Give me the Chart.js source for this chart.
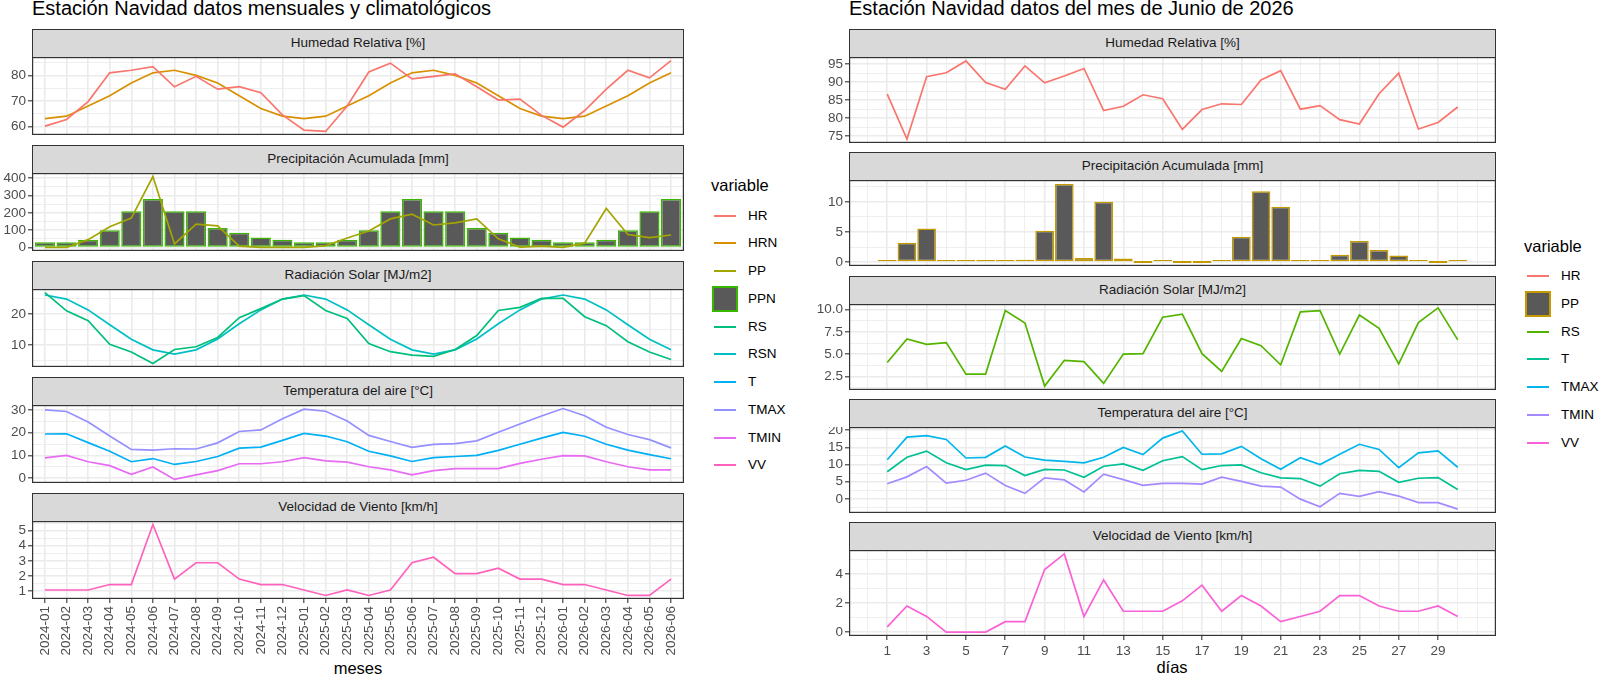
<!DOCTYPE html>
<html>
<head>
<meta charset="utf-8">
<script src="https://cdn.jsdelivr.net/npm/chart.js@4.4.1/dist/chart.umd.min.js"></script>
<style>
  body { margin: 0; width: 1600px; height: 676px; background: #fff; position: relative; overflow: hidden;
         font-family: "Liberation Sans", Arial, sans-serif; }
  .abs { position: absolute; }
  .titulo { font-size: 20px; line-height: 20px; color: #000; white-space: nowrap; }
  .strip { background: #d9d9d9; border: 1px solid #333; box-sizing: border-box; text-align: center;
           font-size: 13.5px; color: #1a1a1a; line-height: 26px; white-space: nowrap; }
  .ejeT { font-size: 16.5px; line-height: 18px; color: #000; transform: translateX(-50%); }
  .leyT { font-size: 16.5px; line-height: 18px; color: #000; }
  .leyL { font-size: 13.5px; line-height: 16px; color: #000; }
</style>
</head>
<body>
<div class="abs titulo" style="left:32px;top:-2px">Estación Navidad datos mensuales y climatológicos</div>
<div class="abs titulo" style="left:849px;top:-2px">Estación Navidad datos del mes de Junio de 2026</div>
<div class="abs ejeT" style="left:358px;top:659px">meses</div>
<div class="abs ejeT" style="left:1172px;top:658px">días</div>

<script>
// ---- datos mensuales (izquierda) ----
const meses = ['2024-01', '2024-02', '2024-03', '2024-04', '2024-05', '2024-06', '2024-07', '2024-08',
  '2024-09', '2024-10', '2024-11', '2024-12', '2025-01', '2025-02', '2025-03', '2025-04', '2025-05',
  '2025-06', '2025-07', '2025-08', '2025-09', '2025-10', '2025-11', '2025-12', '2026-01', '2026-02',
  '2026-03', '2026-04', '2026-05', '2026-06'];
const hrMes = [60.1, 62.7, 69.7, 81.0, 82.0, 83.4, 75.5, 79.6, 74.6, 75.6, 73.2, 64.5, 58.5, 58.0, 68.0,
  81.3, 84.8, 78.6, 79.6, 80.6, 75.5, 70.3, 70.7, 64.3, 59.7, 66.2, 74.6, 82.0, 79.0, 85.8];
const hrnMes = [63, 64, 68, 72, 77, 81, 82, 80, 77, 72, 67, 64, 63, 64, 68, 72, 77, 81, 82, 80, 77, 72,
  67, 64, 63, 64, 68, 72, 77, 81];
const ppMes = [0, 0, 45, 120, 170, 410, 20, 135, 125, 8, 0, 0, 0, 10, 55, 95, 165, 192, 130, 142, 165, 50,
  2, 8, 0, 25, 225, 75, 57, 72];
const ppnMes = [30, 30, 44, 100, 210, 280, 210, 210, 112, 85, 57, 44, 30, 30, 44, 100, 210, 280, 210, 210,
  112, 85, 57, 44, 30, 30, 44, 100, 210, 280];
const rsMes = [26.9, 21.0, 17.8, 10.2, 7.7, 4.0, 8.5, 9.4, 12.4, 18.8, 21.7, 24.8, 25.9, 21.1, 18.5, 10.4,
  7.8, 6.7, 6.3, 8.5, 13.0, 21.1, 22.1, 25.0, 25.0, 19.1, 16.2, 11.0, 7.7, 5.3];
const rsnMes = [26.1, 24.8, 21.3, 16.5, 11.8, 8.4, 7.0, 8.4, 11.9, 16.8, 21.3, 24.8, 26.1, 24.8, 21.3,
  16.5, 11.8, 8.4, 7.0, 8.4, 11.9, 16.8, 21.3, 24.8, 26.1, 24.8, 21.3, 16.5, 11.8, 8.4];
const tMes = [19.4, 19.5, 15.6, 11.8, 7.2, 8.6, 6.0, 7.3, 9.5, 13.2, 13.6, 16.6, 19.7, 18.5, 16.0, 11.8,
  9.8, 7.3, 9.0, 9.5, 10.0, 12.2, 14.9, 17.6, 20.1, 18.4, 14.9, 12.3, 10.3, 8.5];
const tmaxMes = [30.0, 29.3, 24.7, 18.5, 12.6, 12.3, 12.9, 12.8, 15.5, 20.5, 21.2, 26.1, 30.3, 29.4, 25.1,
  18.8, 16.1, 13.5, 14.8, 15.2, 16.4, 20.2, 23.8, 27.3, 30.6, 27.4, 22.4, 19.2, 16.9, 13.3];
const tminMes = [8.9, 10.0, 7.2, 5.5, 1.7, 4.9, -0.6, 1.4, 3.3, 6.3, 6.3, 7.2, 9.0, 7.6, 7.0, 5.0, 3.6,
  1.4, 3.3, 4.2, 4.2, 4.2, 6.5, 8.3, 9.9, 9.8, 7.2, 5.0, 3.6, 3.6];
const vvMes = [1.08, 1.08, 1.08, 1.44, 1.44, 5.4, 1.8, 2.88, 2.88, 1.8, 1.44, 1.44, 1.08, 0.72, 1.08, 0.72,
  1.08, 2.88, 3.24, 2.16, 2.16, 2.52, 1.8, 1.8, 1.44, 1.44, 1.08, 0.72, 0.72, 1.8];

// ---- datos diarios junio 2026 (derecha) ----
const dias = [1, 2, 3, 4, 5, 6, 7, 8, 9, 10, 11, 12, 13, 14, 15, 16, 17, 18, 19, 20, 21, 22, 23, 24, 25,
  26, 27, 28, 29, 30];
const diasEtiq = [1, 3, 5, 7, 9, 11, 13, 15, 17, 19, 21, 23, 25, 27, 29];
const hrDia = [86.7, 74.2, 91.5, 92.6, 95.9, 89.9, 88.0, 94.5, 89.8, 91.7, 93.8, 82.1, 83.3, 86.5, 85.4,
  76.9, 82.4, 84.0, 83.8, 90.6, 93.2, 82.5, 83.5, 79.6, 78.4, 86.8, 92.5, 77.0, 78.8, 83.1];
const ppDia = [0.05, 3.2, 5.6, 0.1, 0.2, 0.1, 0.1, 0.4, 5.2, 13.0, 0.7, 10.05, 0.6, 0, 0.1, 0, 0, 0.2, 4.2,
  11.8, 9.2, 0.1, 0.2, 1.2, 3.5, 2.0, 1.1, 0.2, 0, 0.1];
const rsDia = [4.05, 6.7, 6.1, 6.3, 2.75, 2.75, 9.9, 8.5, 1.4, 4.3, 4.15, 1.7, 5.0, 5.05, 9.15, 9.5, 5.05,
  3.05, 6.75, 5.95, 3.8, 9.75, 9.9, 5.0, 9.4, 7.9, 3.9, 8.55, 10.2, 6.6];
const tDia = [7.9, 12.1, 13.9, 10.5, 8.5, 9.8, 9.7, 6.8, 8.6, 8.4, 6.3, 9.5, 10.2, 8.3, 11.1, 12.3, 8.5,
  9.7, 9.9, 7.6, 6.1, 5.9, 3.7, 7.3, 8.3, 8.0, 4.8, 6.0, 6.2, 2.7];
const tmaxDia = [11.4, 18.0, 18.4, 17.3, 11.9, 12.1, 15.4, 12.2, 11.3, 10.9, 10.5, 12.1, 15.0, 12.9, 17.7,
  19.8, 13.0, 13.1, 15.3, 11.7, 8.6, 12.0, 10.0, 13.0, 15.9, 14.4, 9.1, 13.4, 14.0, 9.2];
const tminDia = [4.4, 6.4, 9.4, 4.6, 5.4, 7.5, 3.9, 1.6, 6.1, 5.5, 2.0, 7.2, 5.6, 3.9, 4.5, 4.5, 4.3, 6.3,
  5.1, 3.7, 3.4, -0.1, -2.3, 1.6, 0.7, 2.1, 0.8, -1.1, -1.1, -3.0];
const vvDia = [0.36, 1.8, 1.08, 0, 0, 0, 0.72, 0.72, 4.32, 5.4, 1.08, 3.6, 1.44, 1.44, 1.44, 2.16, 3.24,
  1.44, 2.52, 1.8, 0.72, 1.08, 1.44, 2.52, 2.52, 1.8, 1.44, 1.44, 1.8, 1.08];

const facetas = ['Humedad Relativa [%]', 'Precipitación Acumulada [mm]', 'Radiación Solar [MJ/m2]',
  'Temperatura del aire [°C]', 'Velocidad de Viento [km/h]'];
const varsMes = ['HR', 'HRN', 'PP', 'PPN', 'RS', 'RSN', 'T', 'TMAX', 'TMIN', 'VV'];
const varsDia = ['HR', 'PP', 'RS', 'T', 'TMAX', 'TMIN', 'VV'];

// colores ggplot (hue)
const colMes = { HR: '#F8766D', HRN: '#D89000', PP: '#A3A500', PPN: '#39B600', RS: '#00BF7D',
  RSN: '#00BFC4', T: '#00B0F6', TMAX: '#9590FF', TMIN: '#E76BF3', VV: '#FF62BC' };
const colDia = { HR: '#F8766D', PP: '#C49A00', RS: '#53B400', T: '#00C094', TMAX: '#00B6EB',
  TMIN: '#A58AFF', VV: '#FB61D7' };
const RELLENO = '#595959';
const GRILLA = '#EBEBEB';
const FUENTE = '"Liberation Sans", Arial, sans-serif';

Chart.defaults.font.family = FUENTE;

// borde del panel
const marco = {
  id: 'marco',
  afterDraw(chart) {
    const a = chart.chartArea, c = chart.ctx;
    c.save();
    c.strokeStyle = '#333';
    c.lineWidth = 1.2;
    c.strokeRect(a.left + 0.6, a.top + 0.6, a.right - a.left - 1.2, a.bottom - a.top - 1.2);
    c.restore();
  }
};

function serie(vals, xs, color) {
  return {
    type: 'line', data: vals.map((v, i) => ({ x: xs[i], y: v })), borderColor: color,
    borderWidth: 1.7, pointRadius: 0, fill: false, tension: 0, order: 1
  };
}

function barras(vals, xs, borde, pct) {
  return {
    type: 'bar', data: vals.map((v, i) => ({ x: xs[i], y: v })), backgroundColor: RELLENO,
    borderColor: borde, borderWidth: 1.5, borderSkipped: false, barPercentage: pct,
    categoryPercentage: 1, minBarLength: 2, order: 2
  };
}

function panel(cfg) {
  const cv = document.createElement('canvas');
  const w = cfg.right - cfg.sideX, h = cfg.h + cfg.axisH;
  cv.width = w; cv.height = h;
  cv.style.cssText = `position:absolute;left:${cfg.sideX}px;top:${cfg.top}px;width:${w}px;height:${h}px`;
  document.body.appendChild(cv);

  const st = document.createElement('div');
  st.className = 'abs strip';
  st.style.cssText = `left:${cfg.left}px;top:${cfg.top - 28}px;width:${cfg.right - cfg.left}px;height:29px`;
  st.textContent = cfg.titulo;
  document.body.appendChild(st);

  // limites y como ggplot (expansion 5%)
  const vals = cfg.datasets.flatMap(d => d.data.map(p => p.y)).concat(cfg.cero ? [0] : []);
  const lo = Math.min(...vals), hi = Math.max(...vals), pad = (hi - lo) * 0.05;
  const paso = cfg.yStep;

  new Chart(cv, {
    type: 'line',
    data: { datasets: cfg.datasets },
    options: {
      responsive: false,
      animation: false,
      layout: { padding: 0, autoPadding: false },
      plugins: { legend: { display: false }, tooltip: { enabled: false } },
      scales: {
        x: {
          type: 'linear', min: cfg.xMin, max: cfg.xMax, offset: false,
          afterBuildTicks: s => { s.ticks = cfg.xTicks.map(t => Object.assign({}, t)); },
          afterFit: s => {
            s.height = cfg.axisH;
            s.paddingLeft = 0; s.paddingRight = 0; s.paddingTop = 0; s.paddingBottom = 0;
          },
          border: { display: false },
          grid: {
            offset: false, color: GRILLA,
            lineWidth: c => (c.tick && c.tick.mj ? 1.6 : 0.8),
            drawTicks: cfg.axisH > 0, tickLength: 4, tickWidth: 1.1,
            tickColor: c => (c.tick && c.tick.mj ? '#333' : 'rgba(0,0,0,0)')
          },
          ticks: {
            display: cfg.axisH > 0, autoSkip: false, maxRotation: cfg.rot, minRotation: cfg.rot,
            padding: 3, color: '#4D4D4D', font: { size: 13.5 },
            callback: (v, i, t) => t[i].lbl || ''
          }
        },
        y: {
          type: 'linear', min: lo - pad, max: hi + pad,
          afterBuildTicks: s => {
            const mitad = paso / 2, out = [];
            for (let k = Math.ceil((s.min) / mitad - 1e-9); k * mitad <= s.max + 1e-9; k++) {
              const v = +(k * mitad).toFixed(6);
              out.push({ value: v, mj: k % 2 === 0 });
            }
            s.ticks = out;
          },
          afterFit: s => {
            s.width = cfg.left - cfg.sideX;
            s.paddingLeft = 0; s.paddingRight = 0; s.paddingTop = 0; s.paddingBottom = 0;
          },
          border: { display: false },
          grid: {
            color: GRILLA,
            lineWidth: c => (c.tick && c.tick.mj ? 1.6 : 0.8),
            drawTicks: true, tickLength: 4, tickWidth: 1.1,
            tickColor: c => (c.tick && c.tick.mj ? '#333' : 'rgba(0,0,0,0)')
          },
          ticks: {
            autoSkip: false, padding: 2, color: '#4D4D4D', font: { size: 13.5 },
            callback: (v, i, t) => (t[i].mj ? (cfg.dec ? v.toFixed(cfg.dec) : String(v)) : '')
          }
        }
      }
    },
    plugins: [marco]
  });
}

// ---- lado izquierdo ----
const xsMes = meses.map((m, i) => i);
const ticksMes = meses.map((m, i) => ({ value: i, mj: true, lbl: m }));
const izq = { sideX: 0, left: 32, right: 684, xMin: -0.6, xMax: 29.6, xTicks: ticksMes, rot: 90 };
const topsIzq = [57, 173, 289, 405, 521];
const setsMes = [
  [serie(hrMes, xsMes, colMes.HR), serie(hrnMes, xsMes, colMes.HRN)],
  [barras(ppnMes, xsMes, colMes.PPN, 0.93), serie(ppMes, xsMes, colMes.PP)],
  [serie(rsMes, xsMes, colMes.RS), serie(rsnMes, xsMes, colMes.RSN)],
  [serie(tMes, xsMes, colMes.T), serie(tmaxMes, xsMes, colMes.TMAX), serie(tminMes, xsMes, colMes.TMIN)],
  [serie(vvMes, xsMes, colMes.VV)]
];
const pasosIzq = [10, 100, 10, 10, 1];
setsMes.forEach((ds, k) => {
  panel(Object.assign({}, izq, {
    top: topsIzq[k], h: 78, axisH: k === 4 ? 56 : 0, datasets: ds, yStep: pasosIzq[k],
    titulo: facetas[k], cero: k === 1
  }));
});

// ---- lado derecho ----
const ticksDia = [];
for (let d = 0; d <= 31; d++) {
  const mj = diasEtiq.includes(d);
  ticksDia.push({ value: d, mj: mj, lbl: mj ? String(d) : '' });
}
const der = { sideX: 800, left: 849, right: 1496, xMin: -0.945, xMax: 31.945, xTicks: ticksDia, rot: 0 };
const topsDer = [57, 180, 304, 427, 550];
const setsDia = [
  [serie(hrDia, dias, colDia.HR)],
  [barras(ppDia, dias, colDia.PP, 0.95)],
  [serie(rsDia, dias, colDia.RS)],
  [serie(tDia, dias, colDia.T), serie(tmaxDia, dias, colDia.TMAX), serie(tminDia, dias, colDia.TMIN)],
  [serie(vvDia, dias, colDia.VV)]
];
const pasosDer = [5, 5, 2.5, 5, 2];
setsDia.forEach((ds, k) => {
  panel(Object.assign({}, der, {
    top: topsDer[k], h: 86, axisH: k === 4 ? 24 : 0, datasets: ds, yStep: pasosDer[k],
    titulo: facetas[k], cero: k === 1, dec: k === 2 ? 1 : 0
  }));
});

// ---- leyendas ----
function leyenda(x, yTit, y0, nombres, colores, barra) {
  const t = document.createElement('div');
  t.className = 'abs leyT';
  t.style.cssText = `left:${x}px;top:${yTit - 9}px`;
  t.textContent = 'variable';
  document.body.appendChild(t);
  nombres.forEach((n, i) => {
    const y = Math.round(y0 + i * 27.75);
    const key = document.createElement('div');
    key.className = 'abs';
    if (n === barra) {
      key.style.cssText = `left:${x + 1}px;top:${y - 13}px;width:26px;height:26px;box-sizing:border-box;` +
        `background:${RELLENO};border:2px solid ${colores[n]}`;
    } else {
      key.style.cssText = `left:${x + 3}px;top:${y - 1}px;width:22px;height:2px;background:${colores[n]}`;
    }
    document.body.appendChild(key);
    const l = document.createElement('div');
    l.className = 'abs leyL';
    l.style.cssText = `left:${x + 37}px;top:${y - 8}px`;
    l.textContent = n;
    document.body.appendChild(l);
  });
}
leyenda(711, 185, 215.7, varsMes, colMes, 'PPN');
leyenda(1524, 246, 276, varsDia, colDia, 'PP');
</script>
</body>
</html>
